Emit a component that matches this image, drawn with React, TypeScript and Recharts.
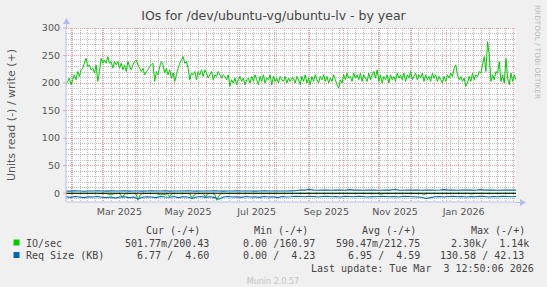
import { CartesianGrid, Line, LineChart, ReferenceLine, XAxis, YAxis } from "recharts"

const DAY = 86400000
const END = Date.UTC(2026, 2, 3, 12, 50, 6)
const START = END - 400 * DAY
const Y_MIN = -16
const Y_MAX = 300

// IO/sec write (+) left to right
const writeIo = [
  197, 203, 209, 197, 206, 215, 206, 221, 212, 224, 227, 236, 245, 230, 233, 224, 227, 218, 233, 203,
  221, 245, 236, 242, 236, 248, 236, 239, 227, 239, 233, 239, 227, 236, 224, 233, 221, 239, 230, 224,
  233, 239, 242, 233, 227, 221, 227, 215, 221, 224, 230, 233, 236, 203, 221, 215, 230, 239, 233, 218,
  227, 215, 224, 209, 218, 203, 215, 227, 236, 242, 248, 236, 239, 227, 206, 218, 215, 221, 206, 221,
  215, 224, 212, 224, 218, 209, 215, 221, 206, 215, 212, 221, 215, 209, 215, 212, 206, 215, 194, 206,
  200, 209, 197, 206, 212, 203, 209, 197, 206, 209, 200, 212, 203, 215, 206, 197, 212, 203, 215, 200,
  209, 206, 215, 197, 212, 203, 209, 200, 212, 206, 203, 212, 200, 209, 203, 209,
  209, 200, 212, 206, 197, 212, 203, 215, 200, 209, 197, 212, 203, 215, 206, 200, 212, 206, 215, 203,
  212, 200, 209, 203, 215, 206, 197, 191, 206, 200, 215, 206, 218, 209, 212, 203, 218, 209, 215, 206,
  218, 203, 215, 209, 203, 218, 206, 215, 221, 209, 224, 203, 215, 200, 212, 206, 215, 200, 215, 206,
  212, 203, 218, 209, 215, 206, 218, 203, 215, 209, 221, 206, 212, 218, 206, 215, 209, 218, 203, 215,
  206, 212, 203, 218, 209, 215, 203, 212, 206, 200, 212, 203, 215, 209, 218, 212, 227, 233, 215, 206,
  212, 203, 209, 194, 200, 212, 203, 218, 206, 215, 212, 221, 218, 233, 248, 221, 275, 251, 203, 215,
  206, 221, 218, 239, 203, 215, 200, 245, 209, 197, 218, 203, 215, 206,
]

// IO/sec read (-), one value every 2 days
const readIo = [
  -0.6, -0.5, -0.7, -0.6, -0.5, -0.6, -0.8, -0.6, -0.5, -0.6, -0.7, -0.6, -0.5, -0.6, -0.7, -0.5, -0.6, -0.8, -0.6, -2,
  -3, -1.5, -0.6, -0.7, -0.6, -8, -2, -0.7, -0.6, -0.8, -0.6, -0.7, -12, -3, -0.6, -0.7, -0.6, -0.8, -0.6, -0.7,
  -0.6, -2, -3, -2, -2.5, -0.8, -6, -1, -0.6, -0.7, -0.6, -0.8, -0.6, -0.7, -0.6, -0.8, -9, -3, -0.7, -0.6,
  -0.8, -0.6, -7, -1.2, -0.6, -0.7, -0.8, -13, -4, -0.7, -0.6, -0.7, -0.6, -0.5, -0.6, -0.7, -0.6, -0.5, -0.6, -0.7,
  -0.6, -0.5, -0.6, -0.7, -0.6, -0.5, -0.6, -0.6, -0.7, -0.5, -0.6, -0.6, -0.5, -0.7, -0.6, -0.5, -0.6, -0.7, -0.6, -0.5,
  -0.6, -0.7, -0.6, -0.5, -0.6, -0.7, -0.6, -0.5, -0.6, -0.6, -0.7, -0.5, -0.6, -0.6, -0.5, -0.7, -0.6, -0.5, -0.6, -0.7,
  -0.6, -0.5, -0.6, -0.7, -0.6, -0.5, -0.6, -0.6, -0.7, -0.5, -0.6, -0.6, -0.5, -0.7, -0.6, -0.5, -0.6, -0.7, -0.6, -0.5,
  -2, -0.7, -0.6, -0.5, -0.6, -0.7, -0.6, -0.5, -0.6, -0.6, -0.7, -0.5, -0.6, -0.6, -0.5, -0.7, -0.6, -0.5, -0.6, -3,
  -0.6, -0.5, -0.6, -0.7, -0.6, -0.5, -0.6, -0.6, -0.7, -0.5, -0.6, -0.6, -0.5, -0.7, -0.6, -0.5, -0.6, -0.7, -0.6, -0.5,
  -1.5, -0.7, -0.6, -0.5, -0.6, -0.7, -0.6, -0.5, -0.6, -0.6, -0.7, -0.5, -0.6, -0.6, -0.5, -0.7, -0.6, -0.5, -0.6, -0.7,
  -0.6,
]

// Req Size (KB), one value every 4 days
const writeReq = [
  4, 3.8, 4.2, 4, 3.6, 4.1, 3.9, 4.3, 4, 3.8, 4.2, 3.9, 4, 4.4, 3.8, 4, 4.1, 3.7, 4, 4.2,
  3.9, 4, 4.3, 3.8, 4.1, 4, 3.9, 4.2, 4, 3.8, 4.1, 4, 3.9, 4.2, 4, 3.8, 4.1, 4, 4.2, 3.9,
  4, 4.1, 3.8, 4, 4.2, 3.9, 4, 4.1, 4, 3.9, 4.2, 4.5, 5.8, 5.5, 6.8, 5.6, 5.4, 5.7, 5.5, 5.3,
  5.6, 5.8, 5.4, 6.5, 5.5, 5.7, 5.4, 5.6, 5.8, 5.5, 5.4, 5.7, 5.5, 6.6, 5.6, 5.4, 5.8, 5.5, 5.6, 5.3,
  5.7, 5.5, 5.4, 5.8, 6.5, 5.5, 5.6, 5.4, 5.7, 5.5, 5.6, 5.4, 6.4, 5.5, 5.7, 5.6, 5.4, 5.8, 5.5, 5.6,
  5.5,
]
const readReq = [
  -6.5, -7.5, -6, -7, -8, -6.5, -7, -6, -7.5, -8, -7, -9, -7, -6.5, -8, -7, -10.5, -7.5, -6.5, -7,
  -8, -6, -7, -7.5, -6, -8, -6.5, -7, -9.5, -7, -6, -7.5, -6.5, -8, -11, -7, -6, -7, -6.5, -7.5,
  -6, -7, -6.5, -7.5, -6, -7, -6.5, -8, -6, -7, -6.5, -5.5, -6, -6.5, -5.5, -6, -7, -6, -5.5, -6.5,
  -6, -7, -5.5, -6, -6.5, -5.5, -6, -7, -6, -6.5, -5.5, -6, -6.5, -6, -7, -5.5, -6, -6.5, -7, -7.5,
  -9.5, -8, -6.5, -6, -7, -6, -5.5, -6.5, -6, -7, -6, -6.5, -5.5, -6, -7, -6, -6.5, -5.5, -6, -6.5,
  -6,
]

const yMajor = [0, 50, 100, 150, 200, 250, 300]
const yMinor = [
  -10, 10, 20, 30, 40, 60, 70, 80, 90, 110, 120, 130, 140, 160, 170, 180, 190, 210, 220, 230, 240, 260,
  270, 280, 290,
]
const gridMonths = [
  "2025-02-01", "2025-03-01", "2025-04-01", "2025-05-01", "2025-06-01", "2025-07-01", "2025-08-01",
  "2025-09-01", "2025-10-01", "2025-11-01", "2025-12-01", "2026-01-01", "2026-02-01", "2026-03-01",
]
const labelDates = ["2025-03-16", "2025-05-16", "2025-07-16", "2025-09-16", "2025-11-16", "2026-01-16"]
const labelNames = ["Mar 2025", "May 2025", "Jul 2025", "Sep 2025", "Nov 2025", "Jan 2026"]

const monthTimes = gridMonths.map((d) => Date.parse(d + "T00:00:00Z"))
const labelTimes = labelDates.map((d) => Date.parse(d + "T00:00:00Z"))
const weekTimes: number[] = []
for (let t = Date.parse("2025-02-02T00:00:00Z"); t < END; t += 7 * DAY) weekTimes.push(t)

function series(values: number[]) {
  const step = (END - START) / (values.length - 1)
  return values.map((v, i) => ({ t: START + i * step, v }))
}

// grid positions through the axis scales, with a plain linear fallback
function vGrid(times: number[]) {
  return (props: any) => {
    const scale = props?.xAxis?.scale
    const off = props?.offset ?? { left: 66, width: 450 }
    return times.map((t) => {
      const x = typeof scale === "function" ? scale(t) : off.left + ((t - START) / (END - START)) * off.width
      return Math.floor(x) + 0.5
    })
  }
}
function hGrid(values: number[]) {
  return (props: any) => {
    const scale = props?.yAxis?.scale
    const off = props?.offset ?? { top: 28, height: 174 }
    return values.map((v) => {
      const y = typeof scale === "function" ? scale(v) : off.top + ((Y_MAX - v) / (Y_MAX - Y_MIN)) * off.height
      return Math.floor(y) + 0.5
    })
  }
}

const pre = (s: string) => s.replace(/ /g, "\u00a0")

const SANS = "'DejaVu Sans', sans-serif"
const MONO = "'DejaVu Sans Mono', monospace"
const AXIS = "#b4bcec"
const MAJOR = "#eaa4a4"
const MINOR = "#c0c0c0"

export default function App() {
  return (
    <div style={{ position: "absolute", left: 0, top: 0, width: 547, height: 287, background: "#f0f0f0" }}>
      <LineChart width={547} height={287} margin={{ top: 28, right: 31, bottom: 65, left: 0 }}>
        <CartesianGrid fill="#ffffff" horizontal={false} vertical={false} />
        <CartesianGrid
          stroke={MINOR}
          strokeDasharray="1 1"
          verticalCoordinatesGenerator={vGrid(weekTimes)}
          horizontalCoordinatesGenerator={hGrid(yMinor)}
        />
        <CartesianGrid
          stroke={MAJOR}
          strokeDasharray="1 1"
          verticalCoordinatesGenerator={vGrid(monthTimes)}
          horizontalCoordinatesGenerator={hGrid(yMajor)}
        />
        <XAxis
          type="number"
          dataKey="t"
          domain={[START, END]}
          allowDataOverflow
          ticks={labelTimes}
          tickFormatter={(t) => labelNames[labelTimes.indexOf(t)]}
          tickLine={false}
          tickSize={0}
          tickMargin={6}
          height={20}
          axisLine={{ stroke: AXIS }}
          tick={{ fill: "#555", fontSize: 9.5, fontFamily: SANS }}
        />
        <YAxis
          type="number"
          domain={[Y_MIN, Y_MAX]}
          allowDataOverflow
          ticks={yMajor}
          width={66}
          tickSize={3}
          tickMargin={3}
          tickLine={{ stroke: MAJOR }}
          axisLine={{ stroke: AXIS }}
          tick={{ fill: "#555", fontSize: 9.5, fontFamily: SANS }}
        />
        <Line data={series(readIo)} dataKey="v" stroke="#00cc00" strokeWidth={1} dot={false} isAnimationActive={false} />
        <Line data={series(writeIo)} dataKey="v" stroke="#00cc00" strokeWidth={1} dot={false} isAnimationActive={false} />
        <Line data={series(readReq)} dataKey="v" stroke="#0066b3" strokeWidth={1.1} dot={false} isAnimationActive={false} />
        <Line data={series(writeReq)} dataKey="v" stroke="#0066b3" strokeWidth={1.1} dot={false} isAnimationActive={false} />
        <ReferenceLine y={0} stroke="#000" strokeWidth={1} />
      </LineChart>
      <svg width={547} height={287} style={{ position: "absolute", left: 0, top: 0, pointerEvents: "none" }}>
        <line x1={66.5} y1={22} x2={66.5} y2={28} stroke={AXIS} />
        <path d="M63,24 L66.5,18 L70,24 Z" fill={AXIS} />
        <line x1={516} y1={202.5} x2={522} y2={202.5} stroke={AXIS} />
        <path d="M520,199 L526,202.5 L520,206 Z" fill={AXIS} />
        <text x={273.5} y={20} textAnchor="middle" fontFamily={SANS} fontSize={12.5} fill="#444">
          IOs for /dev/ubuntu-vg/ubuntu-lv - by year
        </text>
        <text
          x={11}
          y={115}
          transform="rotate(-90 11 115)"
          textAnchor="middle"
          dominantBaseline="central"
          fontFamily={SANS}
          fontSize={11}
          fill="#555"
        >
          Units read (-) / write (+)
        </text>
        <text
          x={537}
          y={5}
          transform="rotate(90 537 5)"
          fontFamily={SANS}
          fontSize={7.3}
          fill="#bbb"
          dominantBaseline="central"
        >
          RRDTOOL / TOBI OETIKER
        </text>
        <g fontFamily={MONO} fontSize={10} fill="#444" dominantBaseline="central">
          <text x={146} y={230}>{pre("Cur (-/+)")}</text>
          <text x={254} y={230}>{pre("Min (-/+)")}</text>
          <text x={362} y={230}>{pre("Avg (-/+)")}</text>
          <text x={471} y={230}>{pre("Max (-/+)")}</text>
          <rect x={13.5} y={239.5} width={6} height={6} fill="#00cc00" />
          <text x={26} y={243}>{pre("IO/sec")}</text>
          <text x={125} y={243}>{pre("501.77m/200.43")}</text>
          <text x={231} y={243}>{pre("  0.00 /160.97")}</text>
          <text x={336} y={243}>{pre("590.47m/212.75")}</text>
          <text x={439} y={243}>{pre("  2.30k/  1.14k")}</text>
          <rect x={13.5} y={252} width={6} height={6} fill="#0066b3" />
          <text x={26} y={255.5}>{pre("Req Size (KB)")}</text>
          <text x={125} y={255.5}>{pre("  6.77 /  4.60")}</text>
          <text x={231} y={255.5}>{pre("  0.00 /  4.23")}</text>
          <text x={336} y={255.5}>{pre("  6.95 /  4.59")}</text>
          <text x={440} y={255.5}>{pre("130.58 / 42.13")}</text>
          <text x={311} y={268}>{pre("Last update: Tue Mar  3 12:50:06 2026")}</text>
        </g>
        <text x={273} y={281} textAnchor="middle" dominantBaseline="central" fontFamily={SANS} fontSize={8} fill="#c4c4c4">
          Munin 2.0.57
        </text>
      </svg>
    </div>
  )
}
